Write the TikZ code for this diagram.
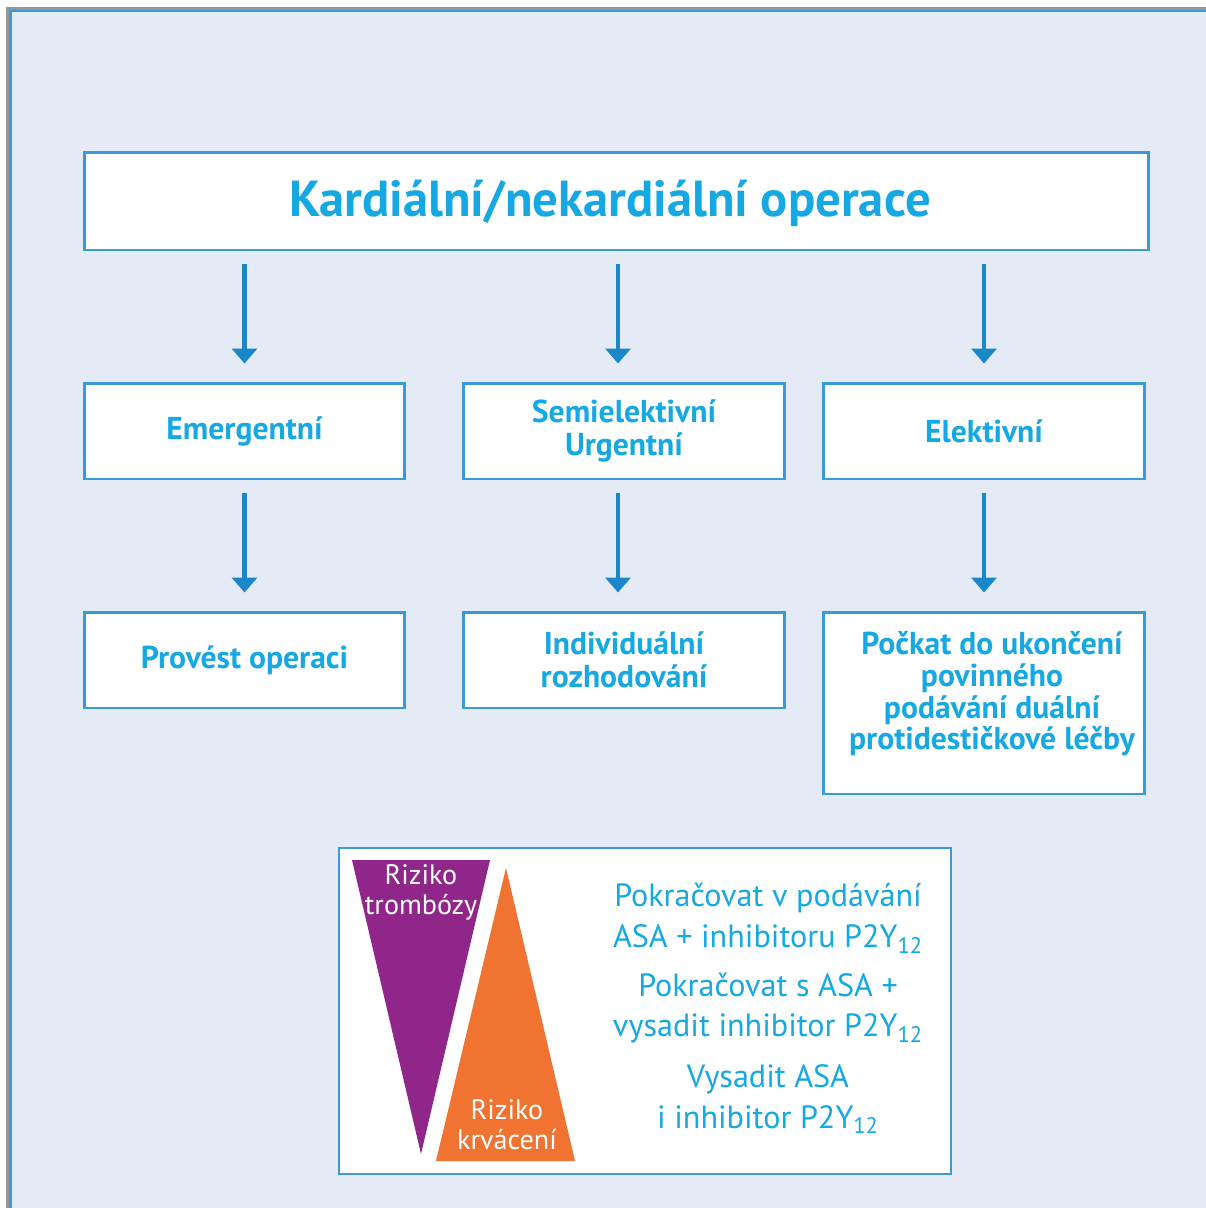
\documentclass[tikz,border=0pt]{standalone}
\usepackage{fontspec}
\setmainfont{PT Sans}
\usetikzlibrary{arrows.meta}
\definecolor{panelbg}{RGB}{228,235,247}
\definecolor{boxline}{RGB}{58,154,214}
\definecolor{arrowblue}{RGB}{26,135,201}
\definecolor{textcyan}{RGB}{22,168,226}
\definecolor{thrombo}{RGB}{145,38,138}
\definecolor{bleed}{RGB}{240,115,50}
\definecolor{edgegray}{RGB}{150,150,150}

\begin{document}
\begin{tikzpicture}[x=0.02cm,y=-0.02cm]
\tikzstyle{every node}+=[inner sep=0pt]
\tikzstyle{stagebox}=[draw=boxline,line width=1.7pt,fill=white,text=textcyan,
  font=\fontsize{18}{18.5}\selectfont\bfseries,align=center,
  minimum width=6.42cm,minimum height=1.92cm]
\tikzstyle{flow}=[draw=arrowblue,line width=2.3pt,
  -{Triangle[width=0.5cm,length=0.3cm]},shorten <=0.26cm,shorten >=0.36cm]
\tikzstyle{advice}=[text=textcyan,align=center,font=\fontsize{18.3}{23.3}\selectfont]
\tikzstyle{risk}=[text=white,align=center,font=\fontsize{16}{17}\selectfont]
\useasboundingbox (0,0) rectangle (1206,1208);
\fill [white] (0,0) rectangle (1206,1208);
\fill [panelbg] (10,10) rectangle (1206,1208);
\draw [edgegray,line width=1.2pt] (7.5,1208) -- (7.5,8.5) -- (1206,8.5);
\draw [boxline,line width=1.2pt] (10.5,1208) -- (10.5,11) -- (1206,11);
\node [stagebox,minimum width=21.3cm,minimum height=1.96cm] (title) at (616.5,201) {};
\node [text=textcyan,font=\fontsize{28.8}{30}\selectfont\bfseries] (titletext) at (610,203) {Kardiální/nekardiální operace};
\node [stagebox] (emerg) at (244.5,431) {Emergentní};
\node [stagebox] (semi) at (624,431) {Semielektivní\\Urgentní};
\node [stagebox] (elect) at (984,431) {Elektivní};
\node [stagebox] (operate) at (244.5,660) {Provést operaci};
\node [stagebox] (decide) at (624,660) {Individuální\\rozhodování};
\node [stagebox,minimum height=3.64cm] (wait) at (984,703) {};
\node [text=textcyan,align=center,font=\fontsize{18}{18}\selectfont\bfseries] (waittext) at (992,694) {Počkat do ukončení\\povinného\\podávání duální\\protidestičkové léčby};
\draw [flow] (emerg.north |- title.south) -- (emerg.north);
\draw [flow] ([xshift=-0.12cm]semi.north |- title.south) -- ([xshift=-0.12cm]semi.north);
\draw [flow] (elect.north |- title.south) -- (elect.north);
\draw [flow] (emerg.south) -- (operate.north);
\draw [flow] ([xshift=-0.12cm]semi.south) -- ([xshift=-0.12cm]decide.north);
\draw [flow] (elect.south) -- (wait.north);
\node [draw=boxline,line width=1.3pt,fill=white,minimum width=12.24cm,minimum height=6.52cm] (risks) at (645,1011) {};
\fill [thrombo] (352,860) -- (490,860) -- (421,1154) -- cycle;
\fill [bleed] (506,868) -- (575,1161) -- (436,1161) -- cycle;
\node [risk] (thromborisk) at (421,892) {Riziko\\trombózy};
\node [risk] (bleedrisk) at (507,1125) {Riziko\\krvácení};
\node [advice] (cont) at (768,918) {Pokračovat v podávání\\ASA + inhibitoru P2Y\textsubscript{12}};
\node [advice] (partial) at (768,1008) {Pokračovat s ASA +\\vysadit inhibitor P2Y\textsubscript{12}};
\node [advice] (stop) at (768,1099) {Vysadit ASA\\i inhibitor P2Y\textsubscript{12}};
\end{tikzpicture}
\end{document}
